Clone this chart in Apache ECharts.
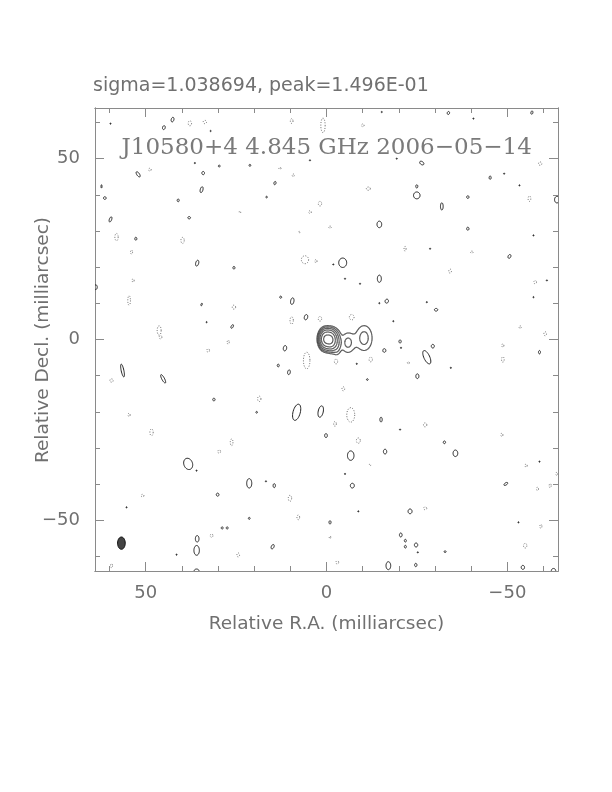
<!DOCTYPE html>
<html>
<head>
<meta charset="utf-8">
<script src="https://cdn.jsdelivr.net/npm/echarts@6.0.0/dist/echarts.min.js"></script>
<style>
html,body{margin:0;padding:0;background:#fff;}
#chart{width:612px;height:792px;}
</style>
</head>
<body>
<div id="chart"></div>
<script>
// ---------------- DATA (milliarcsec, mJy/beam) ----------------
const sigma = 1.038694;            // mJy/beam
const peak = 149.6;                // mJy/beam
const levelMultipliers = [3, 6, 12, 24, 48, 96];
const majorTicks = [-50, 0, 50];
const minorTicks = [-60, -40, -30, -20, -10, 10, 20, 30, 40, 60];

// core-jet components: [x, y, peak mJy, sigmaX, sigmaY]
const coreComponents = [
  [0.2, 0.1, 120, 0.9, 1.35],
  [-1.3, -0.1, 100, 0.8, 1.4],
  [-2.8, -0.8, 14, 0.75, 1.9],
  [-5.9, -0.9, 7.5, 1.3, 2.0],
  [-10.4, 0.4, 8.0, 1.6, 2.5]
];

// restoring beam: [x, y, semi-minor, semi-major, angle]
const beam = [[56.7, -56.3, 1.06, 1.7, 0]];

// positive noise contours: [x, y, semiX, semiY, tiltDeg]
const posBlobs = [
  [42.56,60.79,0.37,0.65,-15],[44.96,58.58,0.37,0.55,-15],[52.07,45.66,0.37,0.83,35],
  [34.09,46.01,0.37,0.45,0],[29.66,47.95,0.23,0.28,0],[21.17,48.15,0.23,0.28,0],
  [62.2,42.33,0.14,0.46,0],[61.29,39.1,0.37,0.37,0],[34.53,41.42,0.37,0.83,-15],
  [41.0,38.46,0.28,0.37,0],[14.25,43.25,0.28,0.46,-15],[16.55,39.37,0.2,0.23,0],
  [59.71,33.2,0.32,0.74,-20],[37.96,33.67,0.37,0.32,0],[52.71,27.86,0.28,0.41,0],
  [35.75,21.11,0.41,0.83,-15],[25.59,19.84,0.28,0.37,0],[63.78,14.47,0.4,0.65,0],
  [34.53,9.68,0.18,0.37,-20],[12.67,11.7,0.28,0.28,0],[9.46,10.6,0.46,0.92,-10],
  [5.67,6.17,0.46,0.74,-15],[26.07,3.6,0.28,0.55,-30],[-33.7,62.62,0.32,0.42,-15],
  [-56.78,62.73,0.28,0.46,-10],[-26.34,48.78,0.42,0.65,55],[-45.24,44.74,0.28,0.46,0],
  [-24.96,39.84,0.9,0.95,0],[-24.96,42.33,0.28,0.45,0],[-39.07,39.37,0.32,0.37,0],
  [-31.88,36.8,0.37,1.0,0],[-63.7,38.66,0.65,0.9,0],[-14.61,31.82,0.65,0.9,0],
  [-39.07,30.63,0.32,0.42,0],[-50.58,22.97,0.37,0.55,-25],[-4.48,21.22,1.1,1.3,0],
  [-14.61,16.8,0.55,1.0,0],[-16.66,10.6,0.46,0.55,-20],[-30.3,8.22,0.46,0.37,0],
  [11.48,-2.41,0.46,0.74,-10],[13.34,-7.19,0.28,0.37,0],[10.38,-9.05,0.37,0.65,-10],
  [56.39,-8.58,0.37,1.8,12],[45.16,-10.87,0.37,1.3,28],[31.13,-16.6,0.32,0.37,0],
  [19.31,-20.12,0.23,0.23,0],[8.25,-20.12,1.0,2.3,-15],[1.6,-19.92,0.7,1.6,-12],
  [0.14,-26.56,0.37,0.55,0],[38.24,-34.39,1.2,1.6,20],[21.36,-39.76,0.7,1.3,0],
  [14.44,-40.4,0.32,0.55,0],[30.1,-42.89,0.37,0.42,0],[21.36,-49.45,0.23,0.28,0],
  [28.83,-52.1,0.28,0.28,0],[27.45,-52.1,0.28,0.28,0],[35.75,-55.1,0.5,0.9,0],
  [35.9,-58.3,0.75,1.35,0],[14.89,-57.28,0.37,0.65,-25],[35.92,-63.92,0.65,0.46,0],
  [-0.97,-50.55,0.28,0.46,0],[-20.34,-0.55,0.32,0.42,0],[-15.99,-3.04,0.42,0.5,0],
  [-29.39,-1.85,0.42,0.5,0],[-27.73,-4.9,0.8,2.0,25],[-25.12,-10.15,0.42,0.65,0],
  [-11.29,-11.07,0.23,0.23,0],[-15.08,-22.14,0.32,0.65,0],[-32.6,-28.42,0.32,0.37,0],
  [-6.7,-32.1,0.9,1.3,0],[-16.19,-30.99,0.46,0.65,0],[-35.64,-31.46,0.65,0.9,0],
  [-7.14,-40.4,0.55,0.65,0],[-49.58,-39.93,0.3,0.6,-55],[-23.1,-47.51,0.55,0.65,0],
  [-20.53,-54.04,0.37,0.55,0],[-21.8,-55.62,0.28,0.37,0],[-21.8,-57.28,0.28,0.37,0],
  [-24.76,-56.81,0.46,0.55,0],[-32.79,-58.66,0.28,0.23,0],[-17.1,-62.53,0.65,1.1,0],
  [-24.68,-62.34,0.32,0.46,0],[-54.29,-63.0,0.46,0.55,0],[-62.76,-63.9,0.6,0.6,0],
  [-58.88,-3.51,0.28,0.46,0]
];

// single-pixel positive specks: [x, y]
const dots = [
  [59.71,59.68],[32.04,57.64],[36.39,48.78],[4.57,49.53],[33.15,4.79],
  [-15.27,62.89],[-40.62,61.07],[-19.42,50.0],[-49.11,45.85],[-53.35,42.61],
  [-57.22,28.78],[-28.64,25.1],[-1.88,20.75],[-9.27,15.41],[-5.12,16.8],[-60.93,16.33],
  [-14.61,10.04],[-27.73,10.32],[-18.48,5.06],[-57.22,11.7],
  [35.92,-36.25],[16.74,-39.21],[41.45,-59.49],[55.28,-46.4],
  [-20.6,-2.3],[-20.34,-24.9],[-58.88,-33.76],[-5.12,-37.16],[-8.8,-47.51],
  [-25.24,-58.85],[-53.07,-50.55],[-8.36,-6.72],[-34.37,-7.83]
];

// negative (dotted) noise contours: [x, y, semiX, semiY, tiltDeg]
const negBlobs = [
  [37.77,59.77,0.46,0.7,0],[33.62,60.13,0.46,0.46,0],[9.63,60.4,0.37,0.65,0],
  [0.97,59.2,0.6,2.0,0],[48.84,46.96,0.37,0.37,0],[9.19,45.38,0.28,0.37,0],
  [12.87,47.32,0.28,0.28,0],[23.93,35.22,0.2,0.28,0],[1.8,37.55,0.46,0.65,0],
  [4.57,35.22,0.37,0.37,0],[-0.97,31.07,0.37,0.28,0],[58.05,28.31,0.46,1.0,0],
  [39.79,27.39,0.46,0.83,0],[53.9,24.16,0.28,0.55,0],[7.53,29.69,0.2,0.2,0],
  [5.95,22.05,1.0,1.1,0],[2.91,21.67,0.28,0.46,0],[53.46,16.33,0.28,0.46,0],
  [54.57,10.79,0.37,1.3,0],[25.59,8.94,0.46,0.55,0],[9.63,5.26,0.46,1.0,0],
  [1.8,5.73,0.46,0.65,0],[46.26,2.49,0.55,1.3,0],[-10.02,59.21,0.37,0.37,0],
  [-59.07,48.62,0.46,0.46,0],[-11.57,41.7,0.55,0.46,0],[-56.11,38.93,0.37,0.74,0],
  [-21.72,25.1,0.28,0.65,0],[-40.18,24.16,0.37,0.28,0],[-34.17,18.9,0.37,0.55,0],
  [-57.69,15.85,0.37,0.46,0],[-6.97,6.17,0.65,0.74,0],[-53.54,3.4,0.28,0.37,0],
  [-60.46,1.58,0.37,0.55,0],[5.48,-5.81,0.9,2.3,0],[45.88,0.64,0.37,0.46,0],
  [32.71,-3.04,0.37,0.46,0],[27.17,-0.75,0.28,0.55,0],[59.43,-11.34,0.46,0.46,0],
  [18.59,-16.41,0.46,0.74,0],[54.57,-20.84,0.28,0.46,0],[48.37,-25.65,0.46,0.92,0],
  [26.23,-28.42,0.37,0.92,0],[29.66,-30.99,0.37,0.46,0],[10.1,-43.91,0.46,0.83,0],
  [50.86,-43.17,0.37,0.37,0],[7.8,-49.17,0.37,0.65,0],[31.77,-54.23,0.37,0.46,0],
  [24.4,-59.57,0.37,0.55,0],[59.43,-62.53,0.28,0.55,0],[-2.63,-6.09,0.46,0.65,0],
  [-12.23,-5.53,0.46,0.65,0],[-22.63,-6.45,0.28,0.28,0],[-48.75,-1.66,0.28,0.46,0],
  [-48.75,-5.53,0.37,0.74,0],[-4.65,-13.64,0.37,0.55,0],[-6.7,-20.84,1.1,2.0,0],
  [-2.35,-23.33,0.37,0.65,0],[-27.26,-23.6,0.46,0.55,0],[-48.48,-26.37,0.28,0.46,0],
  [-8.8,-27.95,0.55,0.74,0],[-12.04,-34.67,0.2,0.23,0],[-55.2,-34.86,0.28,0.46,0],
  [-58.33,-41.31,0.28,0.46,0],[-63.7,-37.16,0.28,0.46,0],[-61.84,-40.4,0.28,0.55,0],
  [-27.26,-46.68,0.46,0.37,0],[-59.27,-51.66,0.28,0.55,0],[-54.92,-57.0,0.46,0.65,0],
  [-0.97,-54.7,0.2,0.37,0],[-2.99,-61.62,0.37,0.46,0]
];

// ---------------- contouring of the core-jet model ----------------
function coreField(x, y) {
  let v = 0;
  for (const c of coreComponents) {
    const dx = (x - c[0]) / c[3], dy = (y - c[1]) / c[4];
    v += c[2] * Math.exp(-0.5 * (dx * dx + dy * dy));
  }
  return v;
}
function marchingSquares(level) {
  const x0 = -18, x1 = 7, y0 = -10, y1 = 10, d = 0.08;
  const nx = Math.round((x1 - x0) / d) + 1, ny = Math.round((y1 - y0) / d) + 1;
  const f = new Float64Array(nx * ny);
  for (let j = 0; j < ny; j++) for (let i = 0; i < nx; i++) f[j * nx + i] = coreField(x0 + i * d, y0 + j * d);
  const segs = [];
  const lerp = (xa, ya, va, xb, yb, vb) => { const t = (level - va) / (vb - va); return [xa + t * (xb - xa), ya + t * (yb - ya)]; };
  for (let j = 0; j < ny - 1; j++) for (let i = 0; i < nx - 1; i++) {
    const xa = x0 + i * d, xb = xa + d, ya = y0 + j * d, yb = ya + d;
    const v0 = f[j * nx + i], v1 = f[j * nx + i + 1], v2 = f[(j + 1) * nx + i + 1], v3 = f[(j + 1) * nx + i];
    const idx = (v0 > level ? 1 : 0) | (v1 > level ? 2 : 0) | (v2 > level ? 4 : 0) | (v3 > level ? 8 : 0);
    if (idx === 0 || idx === 15) continue;
    const e = [];
    e[0] = ((v0 > level) !== (v1 > level)) ? lerp(xa, ya, v0, xb, ya, v1) : null;
    e[1] = ((v1 > level) !== (v2 > level)) ? lerp(xb, ya, v1, xb, yb, v2) : null;
    e[2] = ((v3 > level) !== (v2 > level)) ? lerp(xa, yb, v3, xb, yb, v2) : null;
    e[3] = ((v0 > level) !== (v3 > level)) ? lerp(xa, ya, v0, xa, yb, v3) : null;
    const pairs = [];
    if (idx === 5 || idx === 10) {
      const cen = (v0 + v1 + v2 + v3) / 4 > level;
      if ((idx === 5) === cen) { pairs.push([0, 1], [2, 3]); } else { pairs.push([3, 0], [1, 2]); }
    } else {
      const p = [0, 1, 2, 3].filter(k => e[k]);
      pairs.push([p[0], p[1]]);
    }
    for (const pr of pairs) segs.push([e[pr[0]][0], e[pr[0]][1], e[pr[1]][0], e[pr[1]][1]]);
  }
  return segs;
}
const coreSegments = [];
for (const m of levelMultipliers) {
  const L = m * sigma;
  if (L < peak) coreSegments.push(...marchingSquares(L));
}

// ---------------- rendering ----------------
const FRAME = '#8a8a8a';
const TEXT = '#707070';
const SANS = '"DejaVu Sans", "Liberation Sans", sans-serif';

function ellipseRenderer(style) {
  return function (params, api) {
    const c = api.coord([api.value(0), api.value(1)]);
    const s = api.size([api.value(2), api.value(3)]);
    const ang = (api.value(4) || 0) * Math.PI / 180;
    const ca = Math.cos(ang), sa = Math.sin(ang);
    const n = 32, pts = [];
    for (let k = 0; k < n; k++) {
      const t = k / n * 2 * Math.PI;
      const ex = s[0] * Math.cos(t), ey = s[1] * Math.sin(t);
      pts.push([c[0] + ex * ca + ey * sa, c[1] - ex * sa + ey * ca]);
    }
    return { type: 'polygon', shape: { points: pts }, style: style };
  };
}

const chart = echarts.init(document.getElementById('chart'), null, { renderer: 'canvas' });

const axisBase = {
  type: 'value', min: -64, max: 64, gridIndex: 0,
  splitLine: { show: false },
  axisLine: { show: true, onZero: false, lineStyle: { color: FRAME, width: 1 } }
};
const tickStyle = { color: FRAME, width: 1 };
const labelFmt = v => (v < 0 ? '\u2212' + (-v) : String(v));
const labelStyle = { color: TEXT, fontSize: 18, fontFamily: SANS };

function makeAxis(position, ticks, len, withLabels, inverse, margin) {
  return Object.assign({}, axisBase, {
    position: position, inverse: inverse,
    axisTick: { show: true, inside: true, length: len, customValues: ticks, lineStyle: tickStyle },
    axisLabel: withLabels
      ? Object.assign({ show: true, customValues: majorTicks, formatter: labelFmt, margin: margin }, labelStyle)
      : { show: false }
  });
}

const dotData = dots.map(p => [p[0], p[1], 0.17, 0.17, 0]);

chart.setOption({
  animation: false,
  backgroundColor: '#fff',
  grid: { left: 95, top: 108, width: 463, height: 463, containLabel: false },
  xAxis: [
    makeAxis('bottom', majorTicks, 9, true, true, 13),
    makeAxis('bottom', minorTicks, 5, false, true),
    makeAxis('top', majorTicks, 9, false, true),
    makeAxis('top', minorTicks, 5, false, true)
  ],
  yAxis: [
    makeAxis('left', majorTicks, 9, true, false, 15),
    makeAxis('left', minorTicks, 5, false, false),
    makeAxis('right', majorTicks, 9, false, false),
    makeAxis('right', minorTicks, 5, false, false)
  ],
  series: [
    {
      type: 'custom', name: 'negative', clip: true, silent: true,
      encode: { x: 0, y: 1 }, data: negBlobs,
      renderItem: ellipseRenderer({ fill: 'none', stroke: '#666', lineWidth: 1, lineDash: [1, 1.6] })
    },
    {
      type: 'custom', name: 'positive', clip: true, silent: true,
      encode: { x: 0, y: 1 }, data: posBlobs,
      renderItem: ellipseRenderer({ fill: 'none', stroke: '#222', lineWidth: 1 })
    },
    {
      type: 'custom', name: 'specks', clip: true, silent: true,
      encode: { x: 0, y: 1 }, data: dotData,
      renderItem: ellipseRenderer({ fill: '#333', stroke: '#333', lineWidth: 0.8 })
    },
    {
      type: 'custom', name: 'core', clip: true, silent: true,
      encode: { x: [0, 2], y: [1, 3] }, data: coreSegments,
      renderItem: function (params, api) {
        const a = api.coord([api.value(0), api.value(1)]);
        const b = api.coord([api.value(2), api.value(3)]);
        return { type: 'line', shape: { x1: a[0], y1: a[1], x2: b[0], y2: b[1] },
                 style: { stroke: '#1a1a1a', lineWidth: 1.05 } };
      }
    },
    {
      type: 'custom', name: 'beam', clip: true, silent: true,
      encode: { x: 0, y: 1 }, data: beam,
      renderItem: ellipseRenderer({ fill: '#444', stroke: '#111', lineWidth: 1 })
    }
  ],
  graphic: [
    { type: 'text', x: 93, y: 86, silent: true,
      style: { text: 'sigma=1.038694, peak=1.496E-01', fontSize: 19, fontFamily: SANS, fill: TEXT,
               textAlign: 'left', textVerticalAlign: 'middle', verticalAlign: 'middle' } },
    { type: 'text', x: 326.7, y: 148, silent: true, z: 10,
      style: { text: 'J10580+4 4.845 GHz 2006\u221205\u221214', fontSize: 23,
               fontFamily: '"DejaVu Serif", "Liberation Serif", serif', fill: '#7a7a7a',
               textAlign: 'center', textVerticalAlign: 'middle', verticalAlign: 'middle' } },
    { type: 'text', x: 326.5, y: 624, silent: true,
      style: { text: 'Relative R.A. (milliarcsec)', fontSize: 18.5, fontFamily: SANS, fill: TEXT,
               textAlign: 'center', textVerticalAlign: 'middle', verticalAlign: 'middle' } },
    { type: 'text', x: 43, y: 340, rotation: Math.PI / 2, silent: true,
      style: { text: 'Relative Decl. (milliarcsec)', fontSize: 18.5, fontFamily: SANS, fill: TEXT,
               textAlign: 'center', textVerticalAlign: 'middle', verticalAlign: 'middle' } }
  ]
});
</script>
</body>
</html>
